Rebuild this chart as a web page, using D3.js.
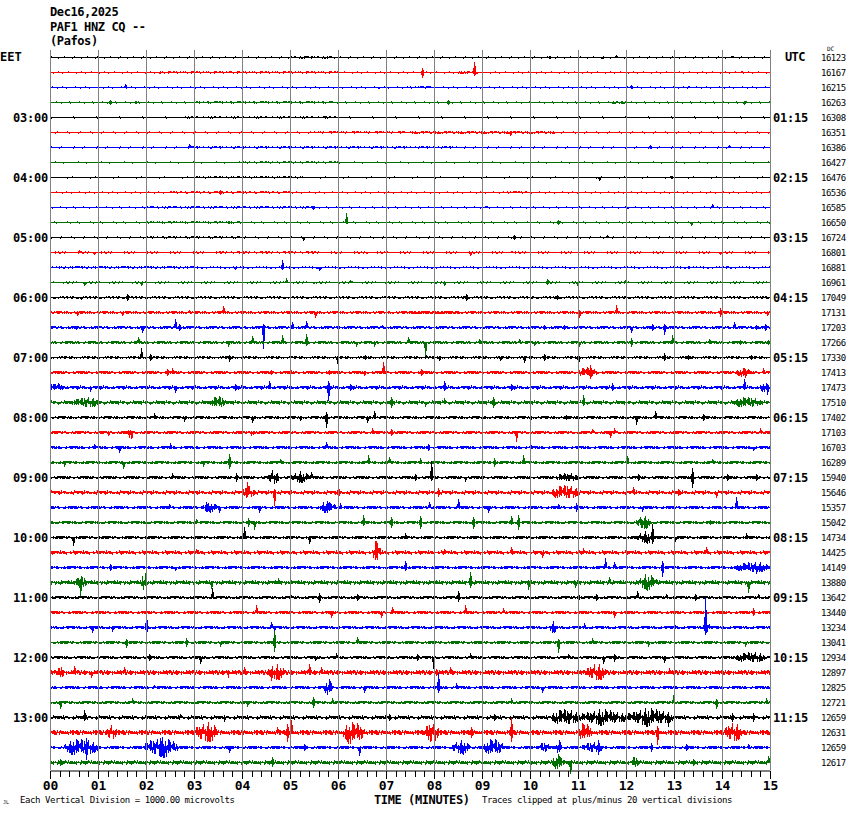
<!DOCTYPE html>
<html><head><meta charset="utf-8">
<script src="https://cdn.jsdelivr.net/npm/d3@7"></script>
<style>body{margin:0;background:#fff}svg{display:block}</style>
</head><body>
<script>
// ---------- DATA ----------
const headerLines = ["Dec16,2025", "PAF1 HNZ CQ --", "(Pafos)"];
const leftZone = "EET", rightZone = "UTC";
const leftTimeLabels = ["03:00","04:00","05:00","06:00","07:00","08:00","09:00","10:00","11:00","12:00","13:00"];
const rightTimeLabels = ["01:15","02:15","03:15","04:15","05:15","06:15","07:15","08:15","09:15","10:15","11:15"];
const minuteTicks = d3.range(0, 16);
const traceColors = ["#000000", "#ff0000", "#0000ff", "#007000"];
const dcValues = [16123,16167,16215,16263,16308,16351,16386,16427,16476,16536,16585,16650,
  16724,16801,16881,16961,17049,17131,17203,17266,17330,17413,17473,17510,
  17402,17103,16703,16289,15940,15646,15357,15042,14734,14425,14149,13880,
  13642,13440,13234,13041,12934,12897,12825,12721,12659,12631,12659,12617];
// background noise level per trace (amplitude units: 15 = one vertical division)
const noiseLevel = [0.55,0.55,0.55,0.55,0.5,0.55,0.55,0.5,0.5,0.55,0.55,0.55,
  0.55,0.6,0.6,0.6,0.8,1.0,1.2,1.2,0.9,1.3,1.5,1.6,
  1.2,1.3,1.3,1.3,1.3,1.6,1.3,1.4,1.3,1.6,1.3,1.7,
  1.3,1.3,1.3,1.3,1.3,2.0,1.3,1.3,1.6,2.2,1.4,1.7];
// events per trace: [minute, up, down] = spike ; [start, end, up, down] = burst
const traceEvents = [
 [[5.3,1,0],[10.4,1,1],[11.5,0,1],[11.8,2,0],[14.2,1,0],[5.0,5.9,0.8,0.6]],
 [[7.75,4,5],[8.83,10,3],[2.27,0,1],[3.73,1,0],[14.4,1,0],[2.3,6.0,0.8,0.5],[8.5,8.9,0.9,0.9]],
 [[1.56,3,0],[7.86,1,0],[12.1,2,1],[13.3,1,0],[6.84,0,1],[7.5,7.9,0.9,0]],
 [[1.26,2,2],[1.78,1,1],[8.3,2,2],[11.8,1,0],[14.45,1,2],[3.0,5.9,0.8,0.5],[11.7,12.0,0.9,0.9]],
 [[3.9,1,0],[5.7,1,0],[2.8,6.0,0.7,0.5]],
 [[9.58,1,3],[7.5,10.5,0.8,0.8],[5.5,7.4,0.8,0]],
 [[2.9,3,0],[12.5,2,1],[14.14,2,0],[2.9,7.5,0.8,0.5],[7.5,8.5,0.8,0]],
 [[4.0,6.0,0.8,0.5]],
 [[11.44,0,3],[12.93,1,1],[3.0,5.3,0.8,0]],
 [[3.54,2,2],[4.0,0,1],[2.5,5.0,0.8,0.5],[9.5,10.0,0.9,0]],
 [[5.47,0,2],[9.07,1,0],[12.03,0,1],[13.8,3,0],[2.0,5.5,0.8,0.5]],
 [[6.16,9,1],[3.7,1,1],[10.58,2,2],[13.35,0,3],[2.0,4.0,0.8,0.5]],
 [[5.27,0,3],[9.67,2,2],[11.6,2,0],[2.0,4.0,0.8,0.5]],
 [[0.6,2,0],[0.92,0,2],[6.58,0,1],[8.74,0,3],[9.6,1,0],[13.95,0,2],[3.5,5.5,0.8,0.5]],
 [[4.83,7,2],[3.85,0,2],[5.6,0,3],[13.3,1,1],[14.1,1,0],[0.2,3.0,0.8,0.5]],
 [[0.7,0,3],[1.9,0,3],[4.92,4,0],[5.47,0,1],[6.25,2,0],[8.2,0,3],[10.35,3,2],[10.98,0,3],[11.97,2,0]],
 [[0.64,0,2],[1.6,3,3],[3.8,0,1],[6.57,1,0],[8.67,3,3],[10.56,2,2],[14.9,1,0]],
 [[0.57,0,3],[1.49,0,3],[2.9,2,0],[3.6,6,0],[5.53,0,5],[11.03,2,5],[11.8,7,0],[13.95,4,4],[14.94,0,3],[7.5,8.5,1.2,1.2]],
 [[0.55,0,2],[1.92,0,5],[2.6,8,0],[2.69,3,3],[4.44,3,21],[5.05,5,0],[5.33,6,0],[5.99,2,2],[6.92,2,0],[10.3,2,2],[10.7,2,2],[12.1,0,5],[12.55,3,3],[12.8,3,7],[14.26,5,0],[14.7,2,2],[14.9,3,3]],
 [[1.83,5,0],[3.7,0,4],[4.2,6,0],[4.84,7,0],[5.33,8,3],[6.37,0,4],[6.75,0,4],[7.45,5,0],[7.82,0,14],[8.93,3,0],[9.78,3,0],[10.08,0,3],[11.03,0,4],[12.1,4,4],[12.95,7,0],[13.72,3,0],[14.37,2,2],[14.96,2,2]],
 [[1.89,9,0],[2.08,3,3],[3.73,2,4],[5.97,0,6],[6.57,2,2],[7.84,2,0],[8.1,0,3],[9.37,0,3],[9.87,0,5],[10.3,3,3],[10.99,2,7],[12.8,4,3],[13.29,2,2],[14.6,2,2]],
 [[2.43,3,3],[2.55,4,0],[3.0,2,2],[4.6,2,2],[5.0,3,0],[5.81,2,2],[6.54,0,3],[6.94,10,0],[7.72,3,3],[11.24,7,6],[14.47,2,5],[14.85,4,0],[11.0,11.4,5,5],[14.3,14.6,4,4]],
 [[0.0,5,0],[0.83,0,4],[2.6,0,5],[3.85,3,3],[4.56,6,0],[5.8,6,13],[6.26,3,3],[8.2,6,3],[9.6,3,3],[11.7,4,3],[14.46,8,0],[14.94,0,7],[0,0.3,4,3],[14.8,15,4,4]],
 [[0.5,1.0,5,5],[3.35,3.65,6,6],[14.26,14.8,5,5],[7.1,5,5],[7.82,0,4],[8.2,4,0],[9.23,5,5],[11.1,7,3]],
 [[2.17,4,0],[2.8,0,4],[4.2,0,5],[5.2,0,3],[5.74,5,10],[6.6,0,5],[6.75,6,0],[10.0,0,4],[10.75,2,2],[12.2,0,7],[12.6,6,0],[13.6,3,3]],
 [[1.2,0,3],[6.7,4,0],[7.1,3,3],[9.7,0,9],[11.3,3,0],[11.66,0,5],[11.75,4,0],[14.8,4,0],[1.6,1.75,3,8],[4.15,4.25,3,3]],
 [[0.92,3,0],[1.44,0,5],[2.5,4,0],[5.74,5,0],[7.87,3,3],[9.99,4,0],[14.65,0,3]],
 [[0.3,0,4],[1.52,0,6],[3.19,0,4],[3.73,8,6],[4.8,3,0],[6.63,7,0],[7.06,5,0],[7.7,4,0],[9.26,4,4],[9.85,7,0],[12.03,6,0],[13.8,3,0]],
 [[2.55,4,0],[3.87,4,4],[5.43,5,0],[7.6,3,3],[7.93,16,3],[8.65,0,4],[12.25,3,3],[13.37,9,10],[14.1,3,3],[14.7,3,3],[4.55,4.75,7,7],[5.0,5.4,5,5],[10.55,11.0,4,4]],
 [[3.97,4.25,6,6],[10.45,11.0,7,7],[4.1,10,3],[4.67,3,13],[6.0,5,5],[8.08,4,4],[12.14,5,0],[13.88,0,5],[13.08,3,3]],
 [[2.48,3,0],[3.26,5,4],[3.52,0,5],[4.35,0,5],[5.78,6,3],[6.05,4,0],[7.9,5,0],[8.5,8,0],[9.13,0,5],[10.58,3,0],[10.95,4,4],[12.33,0,4],[14.3,10,0],[5.6,5.95,5,5],[3.15,3.5,4,4]],
 [[3.04,3,0],[4.12,4,4],[4.26,0,7],[6.53,7,3],[7.1,5,5],[7.7,6,6],[8.81,5,6],[9.6,6,2],[9.75,7,7],[12.32,3,5],[13.76,2,2],[12.2,12.5,6,6]],
 [[0.47,0,8],[4.04,10,0],[5.4,0,6],[7.4,4,0],[12.55,13,6],[14.5,4,0],[13.03,0,4],[12.2,12.6,5,5]],
 [[6.72,6.88,12,13],[3.04,3,0],[8.2,3,0],[9.6,5,0],[10.25,0,5],[11.1,4,0],[13.66,5,0]],
 [[1.26,3,3],[2.6,0,3],[7.4,6,3],[11.56,9,0],[11.75,5,0],[12.75,6,9],[14.7,0,6],[14.3,14.95,5,5]],
 [[0.53,0.78,6,6],[1.9,2.0,11,7],[12.25,12.65,7,7],[0.62,0,14],[3.35,0,6],[4.74,4,0],[8.74,10,5],[9.95,0,7],[10.93,0,5],[11.64,5,0],[14.55,0,10]],
 [[3.38,9,0],[5.0,3,0],[5.6,4,5],[6.4,3,3],[8.5,6,4],[11.0,4,4],[11.38,3,3],[12.23,6,0],[12.83,3,0],[13.43,3,3],[14.75,3,0]],
 [[4.3,7,0],[5.85,0,5],[6.89,0,5],[7.13,5,0],[8.65,7,0],[9.44,4,0],[11.76,0,5],[14.65,4,3]],
 [[0.88,0,5],[1.3,0,4],[2.0,11,6],[4.6,5,0],[4.67,0,3],[11.13,4,0],[13.0,3,0],[13.64,29,7],[10.4,10.55,5,5],[13.6,13.75,5,6]],
 [[1.58,3,5],[2.83,4,4],[3.54,0,4],[4.67,11,9],[6.4,5,0],[10.58,3,10],[11.3,4,0],[12.45,0,4],[14.47,0,4]],
 [[2.06,3,3],[3.13,0,6],[5.53,0,3],[5.95,4,0],[7.65,3,3],[7.98,0,11],[8.74,4,0],[10.8,3,0],[11.52,0,6],[11.76,3,4],[12.8,0,5],[14.3,14.9,5,5]],
 [[0.15,0.3,6,6],[3.66,3.73,6,6],[4.53,4.87,7,7],[11.17,11.56,8,8],[0.5,6,0],[0.85,0,5],[1.54,5,0],[4.04,5,0],[4.6,0,8],[5.4,8,0],[5.64,5,0],[8.05,3,3],[8.33,5,0],[12.9,4,0]],
 [[5.7,5.9,7,7],[6.54,0,5],[2.17,2,0],[8.08,14,5],[8.45,4,0],[10.25,0,5],[13.85,1,1]],
 [[0.2,0,6],[1.7,4,0],[4.1,0,4],[5.47,5,5],[5.88,4,0],[9.6,4,0],[12.98,7,0],[13.88,3,6],[14.92,4,0]],
 [[10.45,11.0,8,8],[11.03,12.0,7,7],[12.0,12.98,8,8],[0.71,7,3],[2.71,3,0],[3.62,0,4],[7.06,3,3],[9.26,3,3],[12.87,0,9],[14.2,4,4],[14.65,4,4]],
 [[1.16,1.37,7,7],[3.0,3.5,9,9],[6.1,6.55,9,12],[7.8,8.08,9,11],[11.0,11.28,9,9],[14.05,14.4,9,9],[4.73,5,0],[4.94,8,9],[5.03,12,0],[8.78,5,5],[9.61,14,9],[12.65,6,12]],
 [[0.3,0.98,8,8],[1.95,2.65,9,9],[8.36,8.74,6,6],[9.05,9.44,8,8],[10.17,10.4,5,5],[10.55,10.65,7,7],[11.06,11.5,5,5],[0.74,9,12],[2.3,9,9],[3.73,0,5],[5.3,3,3],[6.44,0,8],[11.42,7,7],[12.53,4,4],[13.26,3,3],[14.55,3,0]],
 [[10.45,10.7,6,6],[12.1,12.25,6,6],[4.63,5,4],[0.2,3,3],[10.58,8,0],[10.84,0,11],[10.0,0,4],[13.4,3,3],[14.95,6,0]]
];
const footLeft = "Each Vertical Division = 1000.00 microvolts";
const footRight = "Traces clipped at plus/minus 20 vertical divisions";
const axisTitle = "TIME (MINUTES)";
// fixed stroke texture used to render the min/max band of each pixel column
const strokePattern = [0.15,0.95,0.35,0.6,0.05,1,0.45,0.25,0.8,0.5,0,0.7,0.3,0.9,0.1,0.65,0.85,0.2,0.4,0,0.75,0.55,0.3];

// ---------- DRAW ----------
const W = 850, H = 814;
const mono = "'DejaVu Sans Mono', 'Liberation Mono', monospace";
const svg = d3.select("body").append("svg").attr("width", W).attr("height", H)
  .style("font-family", mono);
const x = d3.scaleLinear().domain([0, 15]).range([50, 770]);
const y = d3.scaleLinear().domain([0, 47]).range([57, 762]);
const amp = d3.scaleLinear().domain([0, 15]).range([0, 15]);
const L = strokePattern.length;
const c0 = Math.round(x(0)), nCols = Math.round(x(15)) - c0;

const gTr = svg.append("g").attr("shape-rendering", "crispEdges");
dcValues.forEach((dc, i) => {
  const y0 = Math.round(y(i));
  const up = new Array(nCols), dn = new Array(nCols);
  for (let c = 0; c < nCols; c++) {
    up[c] = noiseLevel[i] * strokePattern[(c * 5 + i * 7) % L];
    dn[c] = noiseLevel[i] * strokePattern[(c * 3 + i * 11 + 4) % L];
  }
  traceEvents[i].forEach(ev => {
    if (ev.length === 4) {
      const a = Math.max(0, Math.round(x(ev[0])) - c0), b = Math.min(nCols - 1, Math.round(x(ev[1])) - c0);
      const big = Math.max(ev[2], ev[3]) >= 2;
      for (let c = a; c <= b; c++) {
        const frac = b > a ? (c - a) / (b - a) : 0.5;
        const taper = big ? 0.35 + 0.65 * Math.sin(Math.PI * frac) : 1;
        const p1 = strokePattern[(c * 7 + 3) % L], p2 = strokePattern[(c * 4 + 9) % L];
        up[c] = Math.max(up[c], ev[2] * p1 * taper * (big ? 1.15 : 1));
        dn[c] = Math.max(dn[c], ev[3] * p2 * taper * (big ? 1.15 : 1));
      }
    } else {
      const c = Math.min(nCols - 1, Math.max(0, Math.round(x(ev[0])) - c0));
      up[c] = Math.max(up[c], ev[1]); dn[c] = Math.max(dn[c], ev[2]);
      [[c - 1, 0.35], [c + 1, 0.6]].forEach(([cc, f]) => {
        if (cc >= 0 && cc < nCols) { up[cc] = Math.max(up[cc], ev[1] * f); dn[cc] = Math.max(dn[cc], ev[2] * f); }
      });
    }
  });
  let d = "";
  for (let c = 0; c < nCols; c++) {
    const u = Math.round(amp(up[c])), w = Math.round(amp(dn[c]));
    d += `M${c0 + c},${y0 - u}h1v${u + w + 1}h-1Z`;
  }
  gTr.append("path").attr("d", d).attr("fill", traceColors[i % 4]);
});

// vertical minute grid
svg.append("g").selectAll("line").data(minuteTicks).join("line")
  .attr("x1", d => x(d) + 0.5).attr("x2", d => x(d) + 0.5)
  .attr("y1", 50).attr("y2", 770)
  .attr("stroke", "#808080").attr("stroke-width", 1).attr("shape-rendering", "crispEdges");

// bottom axis: minor ticks then major
const axisY = 770.5;
svg.append("g").attr("transform", `translate(0,${axisY})`)
  .call(d3.axisBottom(x).tickValues(d3.range(76).map(k => k / 5)).tickSize(6).tickFormat(""))
  .call(g => g.select(".domain").attr("stroke", "#000").attr("stroke-width", 1))
  .call(g => g.selectAll("line").attr("stroke", "#000").attr("shape-rendering", "crispEdges"));
svg.append("g").attr("transform", `translate(0,${axisY})`)
  .call(d3.axisBottom(x).tickValues(minuteTicks).tickSize(8).tickPadding(2).tickFormat(d3.format("02d")))
  .call(g => g.select(".domain").remove())
  .call(g => g.selectAll("line").attr("stroke", "#000").attr("shape-rendering", "crispEdges"))
  .call(g => g.selectAll("text").attr("font-family", mono).attr("font-weight", "bold")
      .attr("font-size", 13).attr("fill", "#000"));

// header
headerLines.forEach((t, k) => {
  svg.append("text").attr("x", 50).attr("y", [16, 31, 45][k]).text(t)
    .attr("font-size", 12).attr("font-weight", "bold").attr("letter-spacing", -0.4);
});
svg.append("text").attr("x", 0).attr("y", 61).text(leftZone)
  .attr("font-size", 12).attr("font-weight", "bold");
svg.append("text").attr("x", 785).attr("y", 61).text(rightZone)
  .attr("font-size", 12).attr("font-weight", "bold").attr("letter-spacing", -0.6);

leftTimeLabels.forEach((t, k) => {
  svg.append("text").attr("x", 48).attr("y", Math.round(y(4 + 4 * k)) + 5)
    .attr("text-anchor", "end").text(t)
    .attr("font-size", 12).attr("font-weight", "bold").attr("letter-spacing", -0.2);
});
rightTimeLabels.forEach((t, k) => {
  svg.append("text").attr("x", 773).attr("y", Math.round(y(4 + 4 * k)) + 5).text(t)
    .attr("font-size", 12).attr("font-weight", "bold").attr("letter-spacing", -0.2);
});
dcValues.forEach((v, i) => {
  svg.append("text").attr("x", 821).attr("y", Math.round(y(i)) + 4).text(v)
    .attr("font-size", 9).attr("letter-spacing", -0.5);
});
svg.append("text").attr("x", 827).attr("y", 51).text("DC").attr("font-size", 6);

// footer
svg.append("text").attr("x", 20).attr("y", 803).text(footLeft)
  .attr("font-size", 9).attr("letter-spacing", -0.43);
svg.append("text").attr("x", 482).attr("y", 803).text(footRight)
  .attr("font-size", 9).attr("letter-spacing", -0.42);
svg.append("text").attr("x", 374).attr("y", 804).text(axisTitle)
  .attr("font-size", 12).attr("font-weight", "bold").attr("letter-spacing", -0.4);
svg.append("text").attr("x", 3).attr("y", 804).text("JL").attr("font-size", 5);
</script>
</body></html>
